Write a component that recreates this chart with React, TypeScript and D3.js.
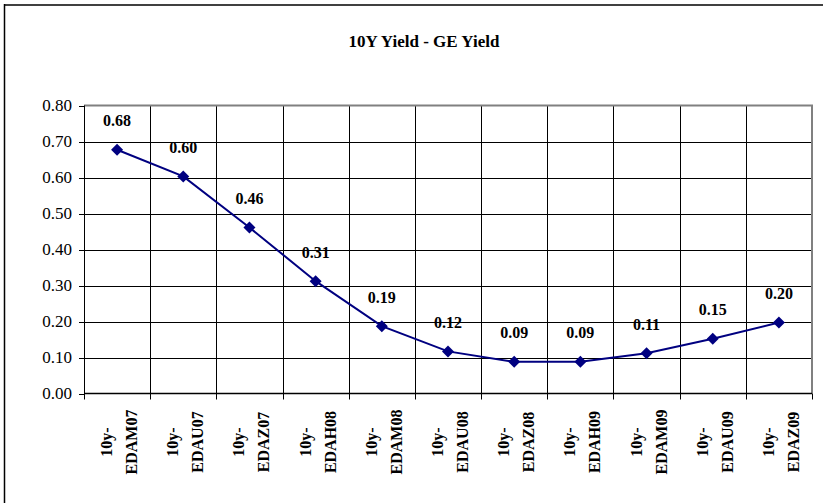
import React, { useEffect, useRef } from 'react';
import * as d3 from 'd3';

const categories = ['EDAM07', 'EDAU07', 'EDAZ07', 'EDAH08', 'EDAM08', 'EDAU08', 'EDAZ08', 'EDAH09', 'EDAM09', 'EDAU09', 'EDAZ09'];
const spread = [0.677, 0.603, 0.461, 0.312, 0.187, 0.117, 0.088, 0.088, 0.112, 0.152, 0.197];
const yTicks = [0, 0.1, 0.2, 0.3, 0.4, 0.5, 0.6, 0.7, 0.8];

const W = 823;
const H = 503;
const plot = { left: 84, right: 812, top: 105.5, bottom: 393.5 };
const font = '"Liberation Serif", "Times New Roman", serif';

const App = () => {
  const ref = useRef<SVGSVGElement>(null);

  useEffect(() => {
    const svg = d3.select(ref.current);
    svg.selectAll('*').remove();

    const x = d3.scaleBand().domain(categories).range([plot.left, plot.right]);
    const y = d3.scaleLinear().domain([0, 0.8]).range([plot.bottom, plot.top]);

    // outer frame (only top + left visible in the original crop)
    svg.append('line').attr('x1', 4).attr('x2', W).attr('y1', 5).attr('y2', 5)
      .attr('stroke', '#404040').attr('stroke-width', 2);
    svg.append('line').attr('x1', 4.5).attr('x2', 4.5).attr('y1', 4).attr('y2', H)
      .attr('stroke', '#000').attr('stroke-width', 1.5);

    svg.append('text')
      .attr('x', 424).attr('y', 47)
      .attr('text-anchor', 'middle')
      .style('font-family', font).style('font-weight', 'bold').style('font-size', '17px')
      .text('10Y Yield - GE Yield');

    // horizontal gridlines
    svg.append('g').selectAll('line').data(yTicks.slice(1, -1)).join('line')
      .attr('x1', plot.left).attr('x2', plot.right)
      .attr('y1', d => Math.round(y(d)) + 0.5).attr('y2', d => Math.round(y(d)) + 0.5)
      .attr('stroke', '#000').attr('stroke-width', 1);

    // vertical gridlines at category boundaries
    const bounds = categories.map(c => x(c) as number).concat([plot.right]);
    svg.append('g').selectAll('line').data(bounds.slice(1, -1)).join('line')
      .attr('x1', d => Math.round(d) + 0.5).attr('x2', d => Math.round(d) + 0.5)
      .attr('y1', plot.top).attr('y2', plot.bottom)
      .attr('stroke', '#000').attr('stroke-width', 1);

    // plot frame: top & right gray
    svg.append('path')
      .attr('d', `M${plot.left},${plot.top}H${plot.right}V${plot.bottom}`)
      .attr('fill', 'none').attr('stroke', '#808080').attr('stroke-width', 2);

    // y axis
    const yAxis = svg.append('g');
    yAxis.append('line').attr('x1', plot.left + 0.5).attr('x2', plot.left + 0.5)
      .attr('y1', plot.top).attr('y2', plot.bottom).attr('stroke', '#000');
    yAxis.selectAll('line.tick').data(yTicks).join('line').attr('class', 'tick')
      .attr('x1', plot.left - 5).attr('x2', plot.left)
      .attr('y1', d => Math.round(y(d)) + 0.5).attr('y2', d => Math.round(y(d)) + 0.5)
      .attr('stroke', '#000');
    yAxis.selectAll('text').data(yTicks).join('text')
      .attr('x', 72).attr('y', d => y(d)).attr('dy', '0.35em')
      .attr('text-anchor', 'end')
      .style('font-family', font).style('font-size', '17px')
      .text(d => d.toFixed(2));

    // x axis
    const xAxis = svg.append('g');
    xAxis.append('line').attr('x1', plot.left).attr('x2', plot.right)
      .attr('y1', plot.bottom).attr('y2', plot.bottom).attr('stroke', '#000').attr('stroke-width', 1.5);
    xAxis.selectAll('line.tick').data(bounds).join('line').attr('class', 'tick')
      .attr('x1', d => Math.round(d) + 0.5).attr('x2', d => Math.round(d) + 0.5)
      .attr('y1', plot.bottom).attr('y2', plot.bottom + 6).attr('stroke', '#000');
    const xl = xAxis.selectAll('text').data(categories).join('text')
      .attr('transform', d => `translate(${(x(d) as number) + x.bandwidth() / 2 + 2},442) rotate(-90)`)
      .attr('text-anchor', 'middle')
      .style('font-family', font).style('font-weight', 'bold').style('font-size', '16px');
    xl.append('tspan').attr('x', 0).attr('y', -7).text('10y-');
    xl.append('tspan').attr('x', 0).attr('y', 18).text(d => d);

    // series
    const cx = (i: number) => (x(categories[i]) as number) + x.bandwidth() / 2;
    const line = d3.line<number>().x((d, i) => cx(i)).y(d => y(d));
    svg.append('path').datum(spread)
      .attr('fill', 'none').attr('stroke', '#000080').attr('stroke-width', 2)
      .attr('d', line);

    svg.append('g').selectAll('path').data(spread).join('path')
      .attr('d', d3.symbol().type(d3.symbolSquare).size(72))
      .attr('transform', (d, i) => `translate(${cx(i)},${y(d)}) rotate(45)`)
      .attr('fill', '#000080');

    svg.append('g').selectAll('text').data(spread).join('text')
      .attr('x', (d, i) => cx(i)).attr('y', d => y(d) - 29).attr('dy', '0.35em')
      .attr('text-anchor', 'middle')
      .style('font-family', font).style('font-weight', 'bold').style('font-size', '16px')
      .text(d => d.toFixed(2));
  }, []);

  return (
    <svg ref={ref} width={W} height={H}
      style={{ position: 'absolute', left: 0, top: 0, background: '#fff' }} />
  );
};

export default App;
